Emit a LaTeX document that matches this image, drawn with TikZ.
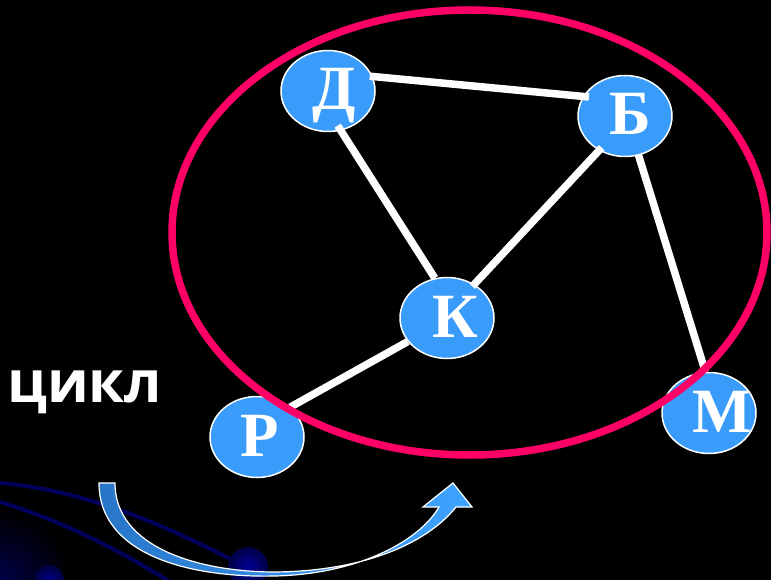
\documentclass[tikz,border=0pt]{standalone}
\usepackage{fontspec}
\usetikzlibrary{shapes.geometric}
\newfontfamily\letterfont{Liberation Serif}
\newfontfamily\wordfont{Open Sans}
\definecolor{nodeblue}{RGB}{58,156,250}
\definecolor{ringpink}{RGB}{255,0,102}
\definecolor{streak}{RGB}{0,0,92}
\definecolor{arrowdark}{RGB}{40,118,200}
\definecolor{arrowlight}{RGB}{62,164,255}
% letter set off-centre without widening the node
\newcommand\nodeletter[2]{\makebox[0pt]{\hspace{#1}#2}}
\tikzset{
  vertex/.style={ellipse, draw=white, line width=1.5pt, fill=nodeblue,
    minimum width=94pt, minimum height=81pt, inner sep=0pt,
    text=white, font=\letterfont\bfseries\fontsize{63}{63}\selectfont,
    text height=42pt, text depth=4pt},
  edge/.style={draw=white, line width=7.5pt, line cap=butt},
  ring/.style={draw=ringpink, line width=7.5pt},
  streakline/.style={draw=streak, line width=4pt}
}
\begin{document}
\begin{tikzpicture}[x=1pt,y=-1pt]
  % black backdrop
  \fill[black] (0,0) rectangle (771,580);
  \useasboundingbox (0,0) rectangle (771,580);

  % faint blue swirl in the lower left corner
  \begin{scope}
    \clip (0,0) rectangle (771,580);
    \shade[inner color={rgb,255:red,0;green,0;blue,70}, outer color=black] (0,580) circle (70);
    \draw[streakline] (0,483) .. controls (80,490) and (160,520) .. (260,575);
    \draw[streakline] (0,502) .. controls (60,520) and (120,550) .. (175,585);
    \shade[inner color={rgb,255:red,0;green,0;blue,150}, outer color={rgb,255:red,0;green,0;blue,70}]
      (248,567) circle (20);
    \shade[inner color={rgb,255:red,0;green,0;blue,140}, outer color={rgb,255:red,0;green,0;blue,60}]
      (49,580) circle (15);
  \end{scope}

  % curved block arrow
  \shade[left color=arrowdark, right color=arrowlight, draw=white, line width=1.2pt]
    (99,483) .. controls (99,555) and (190,578) .. (275,576)
    .. controls (360,574) and (420,540) .. (439,507)
    -- (423,507) -- (453,483) -- (472,507) -- (456,507)
    .. controls (430,540) and (370,571) .. (275,572)
    .. controls (200,572) and (115,548) .. (115,483) -- cycle;

  % vertices
  \node[vertex] (D) at (328,91)  {\nodeletter{12pt}{Д}};
  \node[vertex] (B) at (625,116) {\nodeletter{10pt}{Б}};
  \node[vertex] (K) at (447,318) {\nodeletter{16pt}{К}};
  \node[vertex] (R) at (257,437) {\nodeletter{6pt}{Р}};
  \node[vertex] (M) at (709,413) {\nodeletter{26pt}{М}};

  % edges
  \draw[edge, shorten <=-3pt, shorten >=-6pt] (D.18) -- (B.155);
  \draw[edge, shorten <=-6pt] (D.-72) -- (K.107);
  \draw[edge, shorten <=-3pt, shorten >=-4pt] (K.51) -- (B.-127);
  \draw[edge, shorten <=-1pt] (B.-71) -- (M.95);
  \draw[edge] (K.-149) -- (R.42);

  % the cycle ring
  \draw[ring] (469.5,232.5) ellipse [x radius=297.5, y radius=222.5];

  % caption
  \node[anchor=base west, inner sep=0pt, text=white,
        font=\wordfont\bfseries\fontsize{58}{58}\selectfont] (cap) at (7,402) {цикл};
\end{tikzpicture}
\end{document}
